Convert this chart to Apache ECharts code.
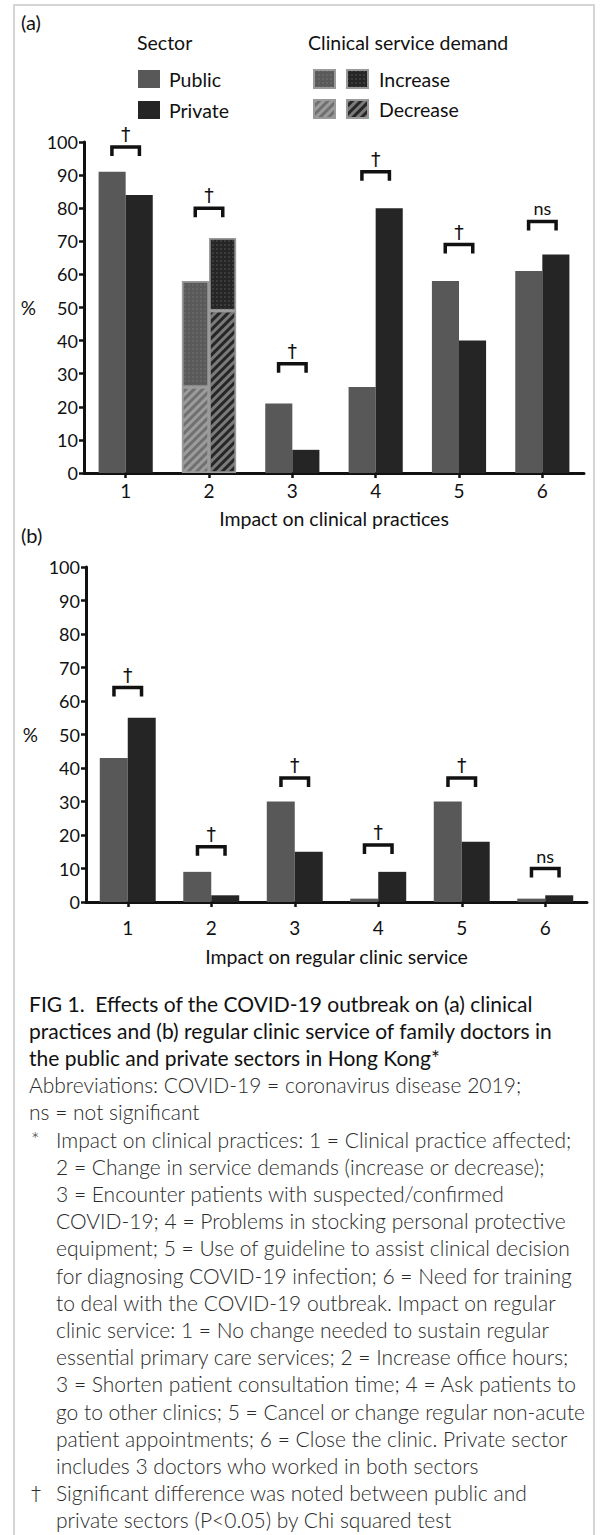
<!DOCTYPE html>
<html>
<head>
<meta charset="utf-8">
<script src="https://cdn.jsdelivr.net/npm/echarts@6/dist/echarts.min.js"></script>
<style>
html,body{margin:0;padding:0;background:#fff;}
#chart{width:603px;height:1535px;}
</style>
</head>
<body>
<div id="chart"></div>
<script>
// ---------- data ----------
const categories = ['1', '2', '3', '4', '5', '6'];
// (a) Impact on clinical practices (%)
const publicPractices  = [91, null, 21, 26, 58, 61];
const privatePractices = [84, null, 7, 80, 40, 66];
// item 2 split by clinical service demand
const publicDecrease  = [null, 26, null, null, null, null];
const publicIncrease  = [null, 32, null, null, null, null];
const privateDecrease = [null, 49, null, null, null, null];
const privateIncrease = [null, 22, null, null, null, null];
// (b) Impact on regular clinic service (%)
const publicService  = [43, 9, 30, 1, 30, 1];
const privateService = [55, 2, 15, 9, 18, 2];
// significance brackets (level in % units) and labels
const sigLevelA  = [98.5, 80, 33, 91, 69, 76];
const sigLevelB  = [64, 16.5, 37, 17, 37, 10];
const sigLabelsA = ['†', '†', '†', '†', '†', 'ns'];
const sigLabelsB = ['†', '†', '†', '†', '†', 'ns'];

const captionTitle = [
  'FIG 1.  Effects of the COVID-19 outbreak on (a) clinical',
  'practices and (b) regular clinic service of family doctors in',
  'the public and private sectors in Hong Kong*'
];
const captionBody = [
  ['', 'Abbreviations: COVID-19 = coronavirus disease 2019;', 0],
  ['', 'ns = not significant', 0],
  ['*', 'Impact on clinical practices: 1 = Clinical practice affected;', 1],
  ['', '2 = Change in service demands (increase or decrease);', 1],
  ['', '3 = Encounter patients with suspected/confirmed', 1],
  ['', 'COVID-19; 4 = Problems in stocking personal protective', 1],
  ['', 'equipment; 5 = Use of guideline to assist clinical decision', 1],
  ['', 'for diagnosing COVID-19 infection; 6 = Need for training', 1],
  ['', 'to deal with the COVID-19 outbreak. Impact on regular', 1],
  ['', 'clinic service: 1 = No change needed to sustain regular', 1],
  ['', 'essential primary care services; 2 = Increase office hours;', 1],
  ['', '3 = Shorten patient consultation time; 4 = Ask patients to', 1],
  ['', 'go to other clinics; 5 = Cancel or change regular non-acute', 1],
  ['', 'patient appointments; 6 = Close the clinic. Private sector', 1],
  ['', 'includes 3 doctors who worked in both sectors', 1],
  ['†', 'Significant difference was noted between public and', 1],
  ['', 'private sectors (P<0.05) by Chi squared test', 1]
];

// ---------- styles ----------
const FONT = 'Lato, "DejaVu Sans", sans-serif';
const PUB = '#585858';
const PRIV = '#252525';

function makeBracket(labels) {
  return function (params, api) {
    const c = api.coord([api.value(0), api.value(1)]);
    const band = api.size([1, 0])[0];
    const half = band * 0.165;
    const leg = 9;
    const lab = labels[params.dataIndex];
    return {
      type: 'group',
      children: [
        { type: 'polyline',
          shape: { points: [[c[0] - half, c[1] + leg], [c[0] - half, c[1]], [c[0] + half, c[1]], [c[0] + half, c[1] + leg]] },
          style: { stroke: '#111', lineWidth: 3.5, fill: null, lineJoin: 'miter', lineCap: 'butt' } },
        { type: 'text', x: c[0], y: c[1] - 13,
          style: { text: lab, fontSize: lab === 'ns' ? 18 : 19, fontFamily: lab === 'ns' ? FONT : '"DejaVu Sans", sans-serif',
                   fill: '#111', align: 'center', verticalAlign: 'middle' } }
      ]
    };
  };
}

function yAxisCfg(gridIndex, margin) {
  return {
    gridIndex: gridIndex, type: 'value', min: 0, max: 100, interval: 10,
    name: '%', nameLocation: 'middle', nameRotate: 0, nameGap: 48,
    nameTextStyle: { fontSize: 19, fontFamily: FONT, color: '#111' },
    axisLine: { show: true, lineStyle: { color: '#111', width: 3 } },
    axisTick: { show: true, length: 5, lineStyle: { color: '#111', width: 2.5 } },
    axisLabel: { fontSize: 18, fontFamily: FONT, color: '#111', margin: margin },
    splitLine: { show: false }
  };
}
function xAxisCfg(gridIndex, name, nameGap, margin) {
  return {
    gridIndex: gridIndex, type: 'category', data: categories,
    name: name, nameLocation: 'middle', nameGap: nameGap,
    nameTextStyle: { fontSize: 19.5, fontFamily: FONT, color: '#111' },
    axisLine: { show: true, lineStyle: { color: '#111', width: 3 } },
    axisTick: { show: true, alignWithLabel: true, length: 5, lineStyle: { color: '#111', width: 2.5 } },
    axisLabel: { fontSize: 19, fontFamily: FONT, color: '#111', margin: margin },
    splitLine: { show: false }
  };
}

const stripeDecal = (color) => ({ symbol: 'rect', symbolSize: 1, dashArrayX: [1, 0], dashArrayY: [2.5, 2.5], rotation: -Math.PI / 4, color: color });
const dotDecal = (color) => ({ symbol: 'rect', symbolSize: 1, dashArrayX: [1.5, 1.5], dashArrayY: [1.5, 1.5], color: color });

const demandBorder = { borderColor: '#9a9a9a', borderWidth: 1.5 };

// ---------- graphics (texts & frame) ----------
const graphics = [
  { type: 'rect', z: -10, shape: { x: 14, y: 5, width: 580, height: 1560 }, style: { fill: 'none', stroke: '#c8c8c8', lineWidth: 1.5 } },
  { type: 'text', x: 21, y: 22, style: { text: '(a)', fontSize: 20, fontFamily: FONT, fill: '#111', verticalAlign: 'middle' } },
  { type: 'text', x: 21, y: 535, style: { text: '(b)', fontSize: 20, fontFamily: FONT, fill: '#111', verticalAlign: 'middle' } },
  { type: 'text', x: 137, y: 42, style: { text: 'Sector', fontSize: 19.5, fontFamily: FONT, fill: '#111', verticalAlign: 'middle' } },
  { type: 'text', x: 308, y: 42, style: { text: 'Clinical service demand', fontSize: 19.5, fontFamily: FONT, fill: '#111', verticalAlign: 'middle' } }
];
const pitch = 27.2;
captionTitle.forEach((t, i) => {
  graphics.push({ type: 'text', x: 29, y: 1003 + i * pitch,
    style: { text: t, fontSize: 21, fontFamily: FONT, fontWeight: 400, fill: '#111', verticalAlign: 'middle' } });
});
captionBody.forEach((row, i) => {
  const y = 1003 + (i + 3) * pitch;
  if (row[0]) {
    graphics.push({ type: 'text', x: 31, y: y, style: { text: row[0], fontSize: 20, fontFamily: row[0] === '†' ? '"DejaVu Sans", sans-serif' : FONT, fontWeight: 300, fill: '#2e2e2e', verticalAlign: 'middle' } });
  }
  graphics.push({ type: 'text', x: row[2] ? 56 : 29, y: y,
    style: { text: row[1], fontSize: 21, fontFamily: FONT, fontWeight: 300, fill: '#2a2a2a', verticalAlign: 'middle' } });
});

const chart = echarts.init(document.getElementById('chart'), null, { renderer: 'svg', width: 603, height: 1535 });
chart.setOption({
  animation: false,
  backgroundColor: '#fff',
  textStyle: { fontFamily: FONT },
  grid: [
    { left: 84, top: 142, width: 500, height: 331 },
    { left: 86, top: 567, width: 501, height: 335 }
  ],
  xAxis: [
    xAxisCfg(0, 'Impact on clinical practices', 35, 8),
    xAxisCfg(1, 'Impact on regular clinic service', 44, 16)
  ],
  yAxis: [yAxisCfg(0, 6), yAxisCfg(1, 6)],
  legend: [
    { data: ['Public', 'Private'], orient: 'vertical', left: 133, top: 64, itemWidth: 22, itemHeight: 18, itemGap: 11, icon: 'rect',
      textStyle: { fontSize: 19.5, fontFamily: FONT, color: '#111', padding: [0, 0, 0, 4] }, selectedMode: false },
    { data: ['Public increase', 'Private increase', 'Public decrease', 'Private decrease'], orient: 'horizontal', left: 308, top: 64,
      width: 160, itemWidth: 21, itemHeight: 18, itemGap: 10, icon: 'rect', selectedMode: false,
      formatter: function (name) { return name === 'Private increase' ? 'Increase' : (name === 'Private decrease' ? 'Decrease' : ''); },
      textStyle: { fontSize: 19.5, fontFamily: FONT, color: '#111', padding: [0, 0, 0, 6] } }
  ],
  graphic: graphics,
  series: [
    { name: 'Public', type: 'bar', xAxisIndex: 0, yAxisIndex: 0, stack: 'pubA', data: publicPractices,
      barGap: '0%', barCategoryGap: '35%', itemStyle: { color: PUB } },
    { name: 'Public decrease', type: 'bar', xAxisIndex: 0, yAxisIndex: 0, stack: 'pubA', data: publicDecrease,
      itemStyle: Object.assign({ color: '#707070', decal: stripeDecal('#9c9c9c') }, demandBorder) },
    { name: 'Public increase', type: 'bar', xAxisIndex: 0, yAxisIndex: 0, stack: 'pubA', data: publicIncrease,
      itemStyle: Object.assign({ color: '#5a5a5a', decal: dotDecal('#666666') }, demandBorder) },
    { name: 'Private', type: 'bar', xAxisIndex: 0, yAxisIndex: 0, stack: 'privA', data: privatePractices,
      barGap: '0%', barCategoryGap: '35%', itemStyle: { color: PRIV } },
    { name: 'Private decrease', type: 'bar', xAxisIndex: 0, yAxisIndex: 0, stack: 'privA', data: privateDecrease,
      itemStyle: Object.assign({ color: '#262626', decal: stripeDecal('#7a7a7a') }, demandBorder) },
    { name: 'Private increase', type: 'bar', xAxisIndex: 0, yAxisIndex: 0, stack: 'privA', data: privateIncrease,
      itemStyle: Object.assign({ color: '#262626', decal: dotDecal('#3c3c3c') }, demandBorder) },
    { name: 'sigA', type: 'custom', xAxisIndex: 0, yAxisIndex: 0, renderItem: makeBracket(sigLabelsA),
      data: categories.map((c, i) => [i, sigLevelA[i]]), z: 5, silent: true },

    { name: 'Public', type: 'bar', xAxisIndex: 1, yAxisIndex: 1, data: publicService,
      barGap: '0%', barCategoryGap: '33%', itemStyle: { color: PUB } },
    { name: 'Private', type: 'bar', xAxisIndex: 1, yAxisIndex: 1, data: privateService,
      barGap: '0%', barCategoryGap: '33%', itemStyle: { color: PRIV } },
    { name: 'sigB', type: 'custom', xAxisIndex: 1, yAxisIndex: 1, renderItem: makeBracket(sigLabelsB),
      data: categories.map((c, i) => [i, sigLevelB[i]]), z: 5, silent: true }
  ]
});
</script>
</body>
</html>
